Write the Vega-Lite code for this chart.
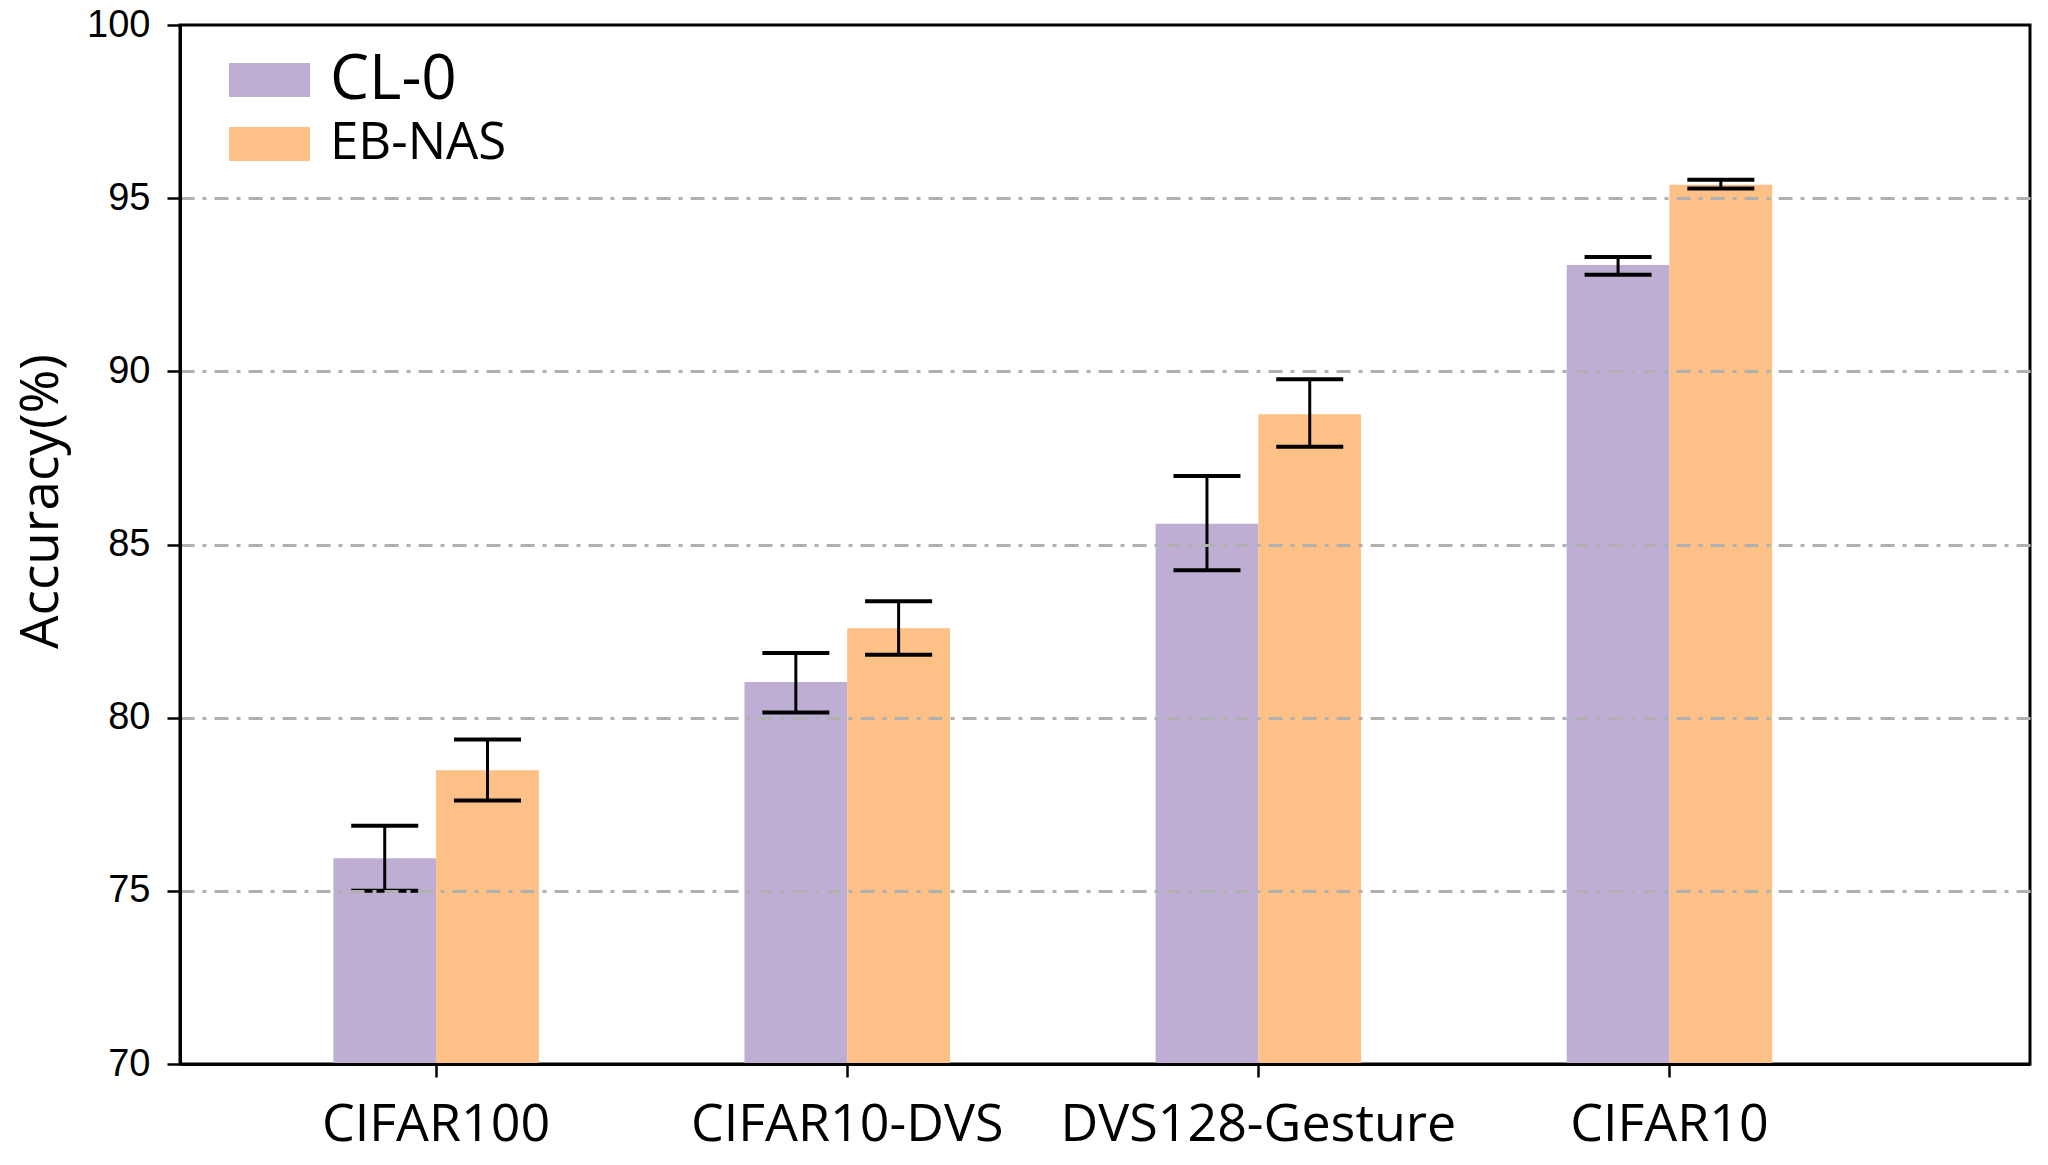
{
  "$schema": "https://vega.github.io/schema/vega-lite/v6.json",
  "width": 1850,
  "height": 1039,
  "autosize": {"type": "none"},
  "padding": {"left": 180, "top": 25, "right": 18, "bottom": 101},
  "background": "white",
  "config": {"view": {"stroke": "#000000", "strokeWidth": 3}},
  "data": {
    "values": [
      {"dataset": "CIFAR100", "method": "CL-0", "acc": 75.94, "lo": 75.0, "hi": 76.88},
      {"dataset": "CIFAR100", "method": "EB-NAS", "acc": 78.48, "lo": 77.61, "hi": 79.37},
      {"dataset": "CIFAR10-DVS", "method": "CL-0", "acc": 81.03, "lo": 80.15, "hi": 81.87},
      {"dataset": "CIFAR10-DVS", "method": "EB-NAS", "acc": 82.58, "lo": 81.82, "hi": 83.36},
      {"dataset": "DVS128-Gesture", "method": "CL-0", "acc": 85.6, "lo": 84.26, "hi": 86.98},
      {"dataset": "DVS128-Gesture", "method": "EB-NAS", "acc": 88.76, "lo": 87.82, "hi": 89.77},
      {"dataset": "CIFAR10", "method": "CL-0", "acc": 93.07, "lo": 92.79, "hi": 93.3},
      {"dataset": "CIFAR10", "method": "EB-NAS", "acc": 95.39, "lo": 95.28, "hi": 95.53}
    ]
  },
  "encoding": {
    "x": {
      "field": "dataset",
      "type": "nominal",
      "sort": ["CIFAR100", "CIFAR10-DVS", "DVS128-Gesture", "CIFAR10"],
      "scale": {"paddingInner": 0.5, "paddingOuter": 0.5, "align": 0.373},
      "axis": {
        "title": null,
        "labelAngle": 0,
        "labelFont": "Open Sans",
        "labelFontSize": 52,
        "labelLimit": 0,
        "labelColor": "#000000",
        "labelPadding": 22,
        "tickSize": 13,
        "tickWidth": 2.5,
        "tickColor": "#000000",
        "domainColor": "#000000",
        "domainWidth": 3,
        "zindex": 1
      }
    },
    "xOffset": {
      "field": "method",
      "type": "nominal",
      "sort": ["CL-0", "EB-NAS"],
      "scale": {"paddingInner": 0, "paddingOuter": 0}
    }
  },
  "layer": [
    {
      "mark": {"type": "bar"},
      "encoding": {
        "y": {
          "field": "acc",
          "type": "quantitative",
          "scale": {"domain": [70, 100], "nice": false, "zero": false},
          "axis": {
            "values": [70, 75, 80, 85, 90, 95, 100],
            "title": "Accuracy(%)",
            "titleFont": "Open Sans",
            "titleFontSize": 53,
            "titleFontWeight": "normal",
            "titleColor": "#000000",
            "titleAngle": -90,
            "titleAlign": "center",
            "titleBaseline": "middle",
            "titleX": -139,
            "titleY": 476,
            "labelFont": "Liberation Sans",
            "labelFontSize": 38,
            "labelColor": "#000000",
            "labelPadding": 17,
            "tickSize": 13,
            "tickWidth": 2.5,
            "tickColor": "#000000",
            "domainColor": "#000000",
            "domainWidth": 3,
            "grid": true,
            "gridColor": "#b0b0b0",
            "gridWidth": 2.8,
            "gridDash": [14, 8, 4, 8],
            "gridOpacity": {"condition": {"test": "datum.value == 70 || datum.value == 100", "value": 0}, "value": 1},
            "zindex": 1
          }
        },
        "y2": {"datum": 70},
        "color": {
          "field": "method",
          "type": "nominal",
          "sort": ["CL-0", "EB-NAS"],
          "scale": {"range": ["#beaed4", "#fdc086"]},
          "legend": {
            "title": null,
            "orient": "none",
            "legendX": 49,
            "legendY": 23,
            "symbolType": "M-1,-0.42H1V0.42H-1Z",
            "symbolSize": 6561,
            "symbolStrokeWidth": 0,
            "symbolOpacity": 1,
            "labelFont": "Open Sans",
            "labelFontSize": {"expr": "datum.label == 'CL-0' ? 62 : 51"},
            "labelLimit": 0,
            "labelColor": "#000000",
            "labelOffset": 20,
            "rowPadding": 0,
            "clipHeight": 64
          }
        }
      }
    },
    {
      "mark": {"type": "rule", "color": "#000000", "strokeWidth": 3},
      "encoding": {
        "y": {"field": "lo", "type": "quantitative"},
        "y2": {"field": "hi"}
      }
    },
    {
      "mark": {"type": "tick", "color": "#000000", "thickness": 4, "size": 67, "opacity": 1},
      "encoding": {"y": {"field": "lo", "type": "quantitative"}}
    },
    {
      "mark": {"type": "tick", "color": "#000000", "thickness": 4, "size": 67, "opacity": 1},
      "encoding": {"y": {"field": "hi", "type": "quantitative"}}
    }
  ]
}
